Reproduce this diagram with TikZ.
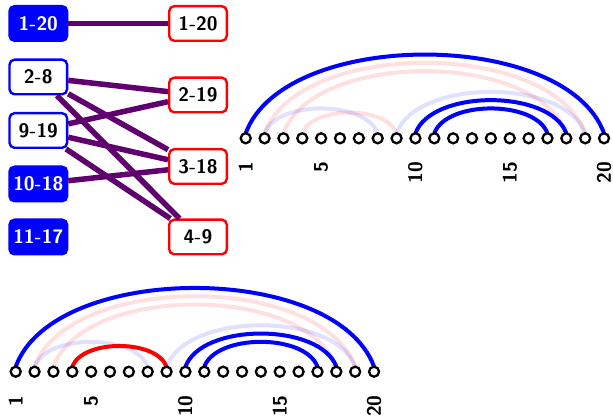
\documentclass[tikz,border=0pt]{standalone}
\usetikzlibrary{calc}
\definecolor{edgepurple}{RGB}{96,0,110}
\pgfdeclarelayer{bg}
\pgfsetlayers{bg,main}
\newcommand\myarc[4]{%
  \pgfmathsetmacro\dd{18.86*(#3-#2)}%
  \draw[#4] (#1#2.north) .. controls ($(#1#2.north)+({0.107*\dd},{-0.293*\dd})$) and ($(#1#3.north)+({-0.107*\dd},{-0.293*\dd})$) .. (#1#3.north);}
\begin{document}
\begin{tikzpicture}[x=1pt,y=-1pt,
  box/.style={rounded corners=5pt, line width=2.4pt, minimum width=57.6pt, minimum height=34.6pt, inner sep=0pt, font=\fontsize{19.5}{22}\selectfont\sffamily\bfseries},
  lfill/.style={box, draw=blue, fill=blue, text=white},
  lopen/.style={box, draw=blue, fill=white, text=black},
  rbox/.style={box, draw=red, fill=white, text=black},
  link/.style={draw=edgepurple, line width=5.5pt},
  dot/.style={circle, draw=black, fill=white, line width=2.3pt, minimum size=10pt, inner sep=0pt, outer sep=0pt},
  ticklabel/.style={rotate=90, anchor=east, inner sep=0pt, font=\fontsize{19.5}{22}\selectfont\sffamily\bfseries},
  solidarc/.style={line width=4pt},
  fadearc/.style={line width=4pt, draw opacity=0.12}
]
\useasboundingbox (0,0) rectangle (613,419);
% bipartite part
\node[lfill] (L1) at (38.3,23.5) {1-20};
\node[lopen] (L2) at (38.3,77) {2-8};
\node[lopen] (L3) at (38.3,130.5) {9-19};
\node[lfill] (L4) at (38.3,184) {10-18};
\node[lfill] (L5) at (38.3,237) {11-17};
\node[rbox] (R1) at (198,23.5) {1-20};
\node[rbox] (R2) at (198,95) {2-19};
\node[rbox] (R3) at (198,166.5) {3-18};
\node[rbox] (R4) at (198,237) {4-9};
\draw[link] (L1) -- (R1);
\draw[link] (L2) -- (R2);
\draw[link] (L2) -- (R3);
\draw[link] (L2) -- (R4);
\draw[link] (L3) -- (R2);
\draw[link] (L3) -- (R3);
\draw[link] (L3) -- (R4);
\draw[link] (L4) -- (R3);
% arc diagrams
\foreach \i in {1,...,20} {
  \node[dot] (a\i) at ({245.7+(\i-1)*18.86},138.3) {};
  \node[dot] (b\i) at ({15.7+(\i-1)*18.86},371.7) {};
}
\foreach \i in {1,5,10,15,20} {
  \node[ticklabel] (ta\i) at ($(a\i)+(0,23.4)$) {\i};
  \node[ticklabel] (tb\i) at ($(b\i)+(0,23.4)$) {\i};
}
\begin{pgfonlayer}{bg}
  \myarc{a}{2}{19}{fadearc, red}
  \myarc{a}{3}{18}{fadearc, red}
  \myarc{a}{4}{9}{fadearc, red}
  \myarc{a}{2}{8}{fadearc, blue}
  \myarc{a}{9}{19}{fadearc, blue}
  \myarc{a}{1}{20}{solidarc, blue}
  \myarc{a}{10}{18}{solidarc, blue}
  \myarc{a}{11}{17}{solidarc, blue}
  \myarc{b}{2}{19}{fadearc, red}
  \myarc{b}{3}{18}{fadearc, red}
  \myarc{b}{2}{8}{fadearc, blue}
  \myarc{b}{9}{19}{fadearc, blue}
  \myarc{b}{4}{9}{solidarc, red}
  \myarc{b}{1}{20}{solidarc, blue}
  \myarc{b}{10}{18}{solidarc, blue}
  \myarc{b}{11}{17}{solidarc, blue}
\end{pgfonlayer}
\end{tikzpicture}
\end{document}
